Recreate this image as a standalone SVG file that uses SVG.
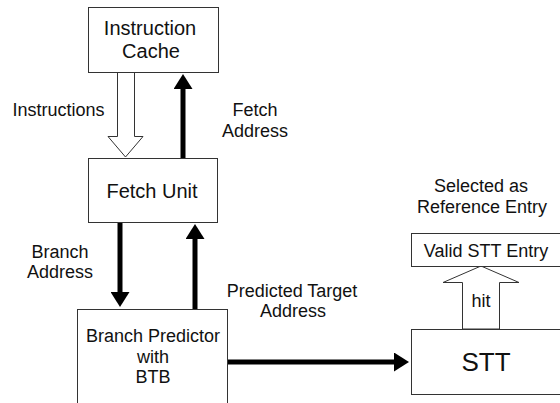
<svg xmlns="http://www.w3.org/2000/svg" width="560" height="403" viewBox="0 0 560 403">
  <style>
    .box { fill: #ffffff; stroke: #333333; stroke-width: 1; }
    .t { font-family: "Liberation Sans", Arial, sans-serif; font-size: 18px; fill: #111111; text-anchor: middle; }
    .mid { font-size: 20px; }
    .big { font-size: 26px; }
    .thick { stroke: #000000; stroke-width: 5; fill: none; marker-end: url(#head); }
    .hollow { fill: #ffffff; stroke: #333333; stroke-width: 1; }
  </style>
  <defs>
    <marker id="head" viewBox="0 0 15 19" markerWidth="15" markerHeight="19" markerUnits="userSpaceOnUse" refX="1" refY="9.5" orient="auto">
      <path d="M0,0 L15,9.5 L0,19 z" fill="#000000"/>
    </marker>
  </defs>
  <rect width="560" height="403" fill="#ffffff"/>

  <g id="connectors">
    <polygon id="instructions-arrow" class="hollow" points="117.5,72 117.5,136.5 108,136.5 125.5,157 143,136.5 134.5,136.5 134.5,72"/>
    <line id="fetch-address-arrow" class="thick" x1="183" y1="158" x2="183" y2="88"/>
    <line id="branch-address-arrow" class="thick" x1="120" y1="222" x2="120" y2="293"/>
    <line id="predicted-target-up-arrow" class="thick" x1="195" y1="309" x2="195" y2="238"/>
    <line id="to-stt-arrow" class="thick" x1="228" y1="362" x2="395" y2="362"/>
    <polygon id="hit-arrow" class="hollow" points="462.5,329 462.5,282.5 443,282.5 481,266 519,282.5 499.5,282.5 499.5,329"/>
  </g>

  <g id="labels">
    <text class="t" x="58.5" y="116">Instructions</text>
    <text class="t" x="255" y="116">Fetch</text>
    <text class="t" x="255" y="137">Address</text>
    <text class="t" x="60" y="258">Branch</text>
    <text class="t" x="60" y="278">Address</text>
    <text class="t" x="292" y="297">Predicted Target</text>
    <text class="t" x="293" y="317">Address</text>
    <text class="t" x="481" y="192">Selected as</text>
    <text class="t" x="482" y="213">Reference Entry</text>
    <text class="t" x="481" y="307">hit</text>
  </g>

  <g id="instruction-cache">
    <rect class="box" x="88.5" y="7.5" width="130" height="65"/>
    <text class="t mid" x="150" y="35">Instruction</text>
    <text class="t mid" x="151" y="58">Cache</text>
  </g>

  <g id="fetch-unit">
    <rect class="box" x="88.5" y="158.5" width="129" height="64"/>
    <text class="t mid" x="152" y="198">Fetch Unit</text>
  </g>

  <g id="branch-predictor">
    <rect class="box" x="77.5" y="309.5" width="150" height="110"/>
    <text class="t" x="153" y="342">Branch Predictor</text>
    <text class="t" x="153" y="363">with</text>
    <text class="t" x="153" y="383">BTB</text>
  </g>

  <g id="valid-stt-entry">
    <rect class="box" x="411.5" y="233.5" width="160" height="33"/>
    <text class="t" x="486" y="257">Valid STT Entry</text>
  </g>

  <g id="stt">
    <rect class="box" x="411.5" y="329.5" width="160" height="65"/>
    <text class="t big" x="486" y="371">STT</text>
  </g>
</svg>
